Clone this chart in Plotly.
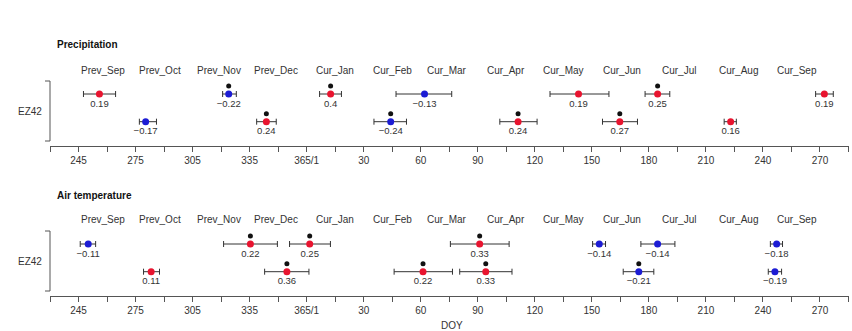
import plotly.graph_objects as go

# ---------------- data ----------------
# x values are "day" = day counted from 1 Jan of the previous year
# (previous-year DOY as is, current-year DOY + 365)
month_labels = ["Prev_Sep", "Prev_Oct", "Prev_Nov", "Prev_Dec", "Cur_Jan", "Cur_Feb",
                "Cur_Mar", "Cur_Apr", "Cur_May", "Cur_Jun", "Cur_Jul", "Cur_Aug", "Cur_Sep"]
month_mid_doy = [258, 288, 319, 349, 15, 45, 74, 105, 135, 166, 196, 227, 258]
month_is_cur = [0, 0, 0, 0, 1, 1, 1, 1, 1, 1, 1, 1, 1]

tick_doy = [245, 275, 305, 335, 365, 30, 60, 90, 120, 150, 180, 210, 240, 270]
tick_is_cur = [0, 0, 0, 0, 0, 1, 1, 1, 1, 1, 1, 1, 1, 1]
tick_labels = ["245", "275", "305", "335", "365/1", "30", "60", "90", "120",
               "150", "180", "210", "240", "270"]

station = "EZ42"
panel_titles = ["Precipitation", "Air temperature"]

# Precipitation, upper row
prec_up_day = [256, 324, 377.6, 427, 508, 549.6, 637.3]
prec_up_lo = [247.6, 320.8, 371.8, 412, 493, 543, 632.7]
prec_up_hi = [264.5, 328, 383.3, 441.3, 524, 556, 642]
prec_up_r = [0.19, -0.22, 0.4, -0.13, 0.19, 0.25, 0.19]
prec_up_sig = [0, 1, 1, 0, 0, 1, 0]
# Precipitation, lower row
prec_lo_day = [280.3, 343.8, 409.2, 476.2, 529.7, 588]
prec_lo_lo = [277, 338.7, 400.4, 466.6, 520.6, 584.6]
prec_lo_hi = [286, 349, 417.5, 486.2, 539, 591]
prec_lo_r = [-0.17, 0.24, -0.24, 0.24, 0.27, 0.16]
prec_lo_sig = [0, 1, 1, 1, 1, 0]

# Air temperature, upper row
temp_up_day = [250.1, 335.4, 366.6, 456, 518.9, 549.6, 612.2]
temp_up_lo = [245.9, 321.3, 356, 440.6, 515.4, 540.8, 608.9]
temp_up_hi = [254, 349.6, 377.5, 471.5, 522.2, 558.7, 615.3]
temp_up_r = [-0.11, 0.22, 0.25, 0.33, -0.14, -0.14, -0.18]
temp_up_sig = [0, 1, 1, 1, 0, 0, 0]
# Air temperature, lower row
temp_lo_day = [283.2, 354.6, 426.2, 459.2, 539.7, 611.3]
temp_lo_lo = [279.2, 342.9, 411, 445.5, 531.5, 607.8]
temp_lo_hi = [287.6, 366.2, 441.7, 473, 547.6, 614.8]
temp_lo_r = [0.11, 0.36, 0.22, 0.33, -0.21, -0.19]
temp_lo_sig = [0, 1, 1, 1, 1, 0]

# ---------------- styling / layout ----------------
W, H = 852, 331
FONT = "Liberation Sans, Arial, sans-serif"
TXT = "#333333"
AX = "#555555"
RED = "#e8142f"
BLUE = "#1c1cd4"


def to_day(doy, cur):
    return doy + 365 if cur else doy


def fx(p):
    return p / W


def fy(p):
    return 1 - p / H


def fmt(v):
    return f"{v:g}".replace("-", "\u2212")


X0, X1 = 230, 650
XPX0, XPX1 = 50, 848.5
ROW_PX = 27.7  # pixels per row unit

panels = [
    dict(axis=146, up=94, top=58, btop=81, bbot=141, title=44, month=70,
         rows=[(prec_up_day, prec_up_lo, prec_up_hi, prec_up_r, prec_up_sig),
               (prec_lo_day, prec_lo_lo, prec_lo_hi, prec_lo_r, prec_lo_sig)]),
    dict(axis=295.5, up=244, top=207, btop=231, bbot=291, title=195, month=219,
         rows=[(temp_up_day, temp_up_lo, temp_up_hi, temp_up_r, temp_up_sig),
               (temp_lo_day, temp_lo_lo, temp_lo_hi, temp_lo_r, temp_lo_sig)]),
]

fig = go.Figure()
annotations = []
shapes = []

tick_all = list(range(X0, X1 + 1, 15))
major = {to_day(d, c): t for d, c, t in zip(tick_doy, tick_is_cur, tick_labels)}
tick_text = [major.get(v, "") for v in tick_all]

for i, p in enumerate(panels):
    xa = "x" if i == 0 else f"x{i+1}"
    ya = "y" if i == 0 else f"y{i+1}"
    row_y = [2, 1]
    y_bottom = 2 - (p["axis"] - p["up"]) / ROW_PX
    y_top = 2 + (p["up"] - p["top"]) / ROW_PX

    for (days, lo, hi, r, sig), yv in zip(p["rows"], row_y):
        cols = [RED if v > 0 else BLUE for v in r]
        fig.add_trace(go.Scatter(
            x=days, y=[yv] * len(days), xaxis=xa, yaxis=ya,
            mode="markers+text",
            marker=dict(color=cols, size=7, line=dict(width=0)),
            error_x=dict(type="data", symmetric=False,
                         array=[h - d for h, d in zip(hi, days)],
                         arrayminus=[d - l for d, l in zip(days, lo)],
                         color="#333333", thickness=1, width=3),
            text=[fmt(v) for v in r], textposition="bottom center",
            textfont=dict(family=FONT, size=9.5, color=TXT),
            showlegend=False, hoverinfo="skip", cliponaxis=False,
        ))
        sx = [d for d, s in zip(days, sig) if s]
        fig.add_trace(go.Scatter(
            x=sx, y=[yv + 8 / ROW_PX] * len(sx), xaxis=xa, yaxis=ya,
            mode="markers", marker=dict(color="#111111", size=5),
            showlegend=False, hoverinfo="skip", cliponaxis=False,
        ))

    dom_y = [fy(p["axis"]), fy(p["top"])]
    fig.update_layout(**{
        ("xaxis" if i == 0 else f"xaxis{i+1}"): dict(
            domain=[fx(XPX0), fx(XPX1)], anchor=ya, range=[X0, X1],
            tickmode="array", tickvals=tick_all, ticktext=tick_text,
            ticks="outside", ticklen=5, tickwidth=1, tickcolor=AX,
            showline=True, linecolor=AX, linewidth=1, showgrid=False, zeroline=False,
            tickfont=dict(family=FONT, size=10, color=TXT), fixedrange=True,
        ),
        ("yaxis" if i == 0 else f"yaxis{i+1}"): dict(
            domain=dom_y, anchor=xa, range=[y_bottom, y_top], visible=False,
            fixedrange=True,
        ),
    })

    annotations.append(dict(text=f"<b>{panel_titles[i]}</b>", xref="paper", yref="paper",
                            x=fx(55), y=fy(p["title"]), xanchor="left", yanchor="middle",
                            showarrow=False, font=dict(family=FONT, size=10, color="#111111")))
    for lab, d, c in zip(month_labels, month_mid_doy, month_is_cur):
        annotations.append(dict(text=lab, xref=xa, yref="paper", x=to_day(d, c),
                                y=fy(p["month"]), xanchor="center", yanchor="middle",
                                showarrow=False, font=dict(family=FONT, size=10, color=TXT)))
    annotations.append(dict(text=station, xref="paper", yref="paper", x=fx(30),
                            y=fy((p["btop"] + p["bbot"]) / 2), xanchor="center",
                            yanchor="middle", showarrow=False,
                            font=dict(family=FONT, size=10, color=TXT)))
    line = dict(color=AX, width=1)
    shapes.append(dict(type="line", xref="paper", yref="paper", x0=fx(50), x1=fx(50),
                       y0=fy(p["btop"]), y1=fy(p["bbot"]), line=line))
    for yy in (p["btop"], p["bbot"]):
        shapes.append(dict(type="line", xref="paper", yref="paper", x0=fx(45), x1=fx(50),
                           y0=fy(yy), y1=fy(yy), line=line))

annotations.append(dict(text="DOY", xref="paper", yref="paper", x=fx(452), y=fy(325),
                        xanchor="center", yanchor="middle", showarrow=False,
                        font=dict(family=FONT, size=10, color=TXT)))

fig.update_layout(
    width=W, height=H, margin=dict(l=0, r=0, t=0, b=0),
    paper_bgcolor="white", plot_bgcolor="white",
    annotations=annotations, shapes=shapes,
    font=dict(family=FONT, size=10, color=TXT),
)

fig.write_html(
    "out.html",
    config={"displayModeBar": False, "staticPlot": True},
    post_script="document.body.style.margin='0';document.body.style.padding='0';"
                "document.body.style.overflow='hidden';",
)
